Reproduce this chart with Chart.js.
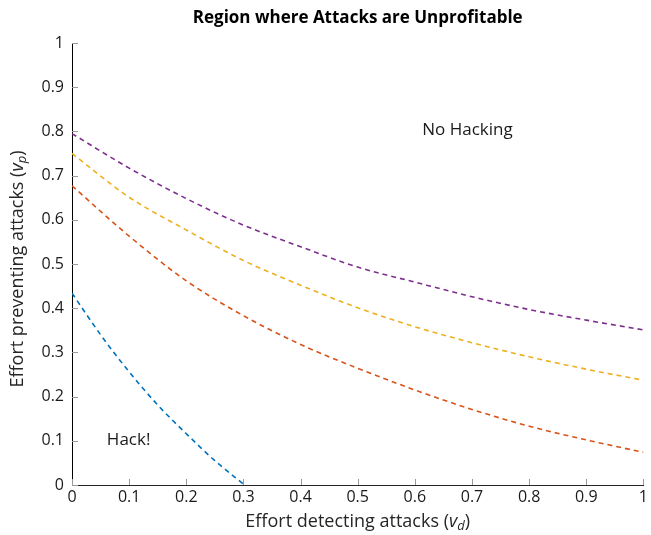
<!DOCTYPE html>
<html>
<head>
<meta charset="utf-8">
<script src="https://cdn.jsdelivr.net/npm/chart.js@4"></script>
<style>
  html, body { margin: 0; padding: 0; background: #fff; }
  #wrap { width: 651px; height: 535px; }
</style>
</head>
<body>
<div id="wrap"><canvas id="regionChart"></canvas></div>
<script>
// effort detecting attacks (x) and the boundary curves
const xVals = [0, 0.1, 0.2, 0.3, 0.4, 0.5, 0.6, 0.7, 0.8, 0.9, 1];
const blueX = [0, 0.05, 0.1, 0.15, 0.2, 0.25, 0.302];
const blueY = [0.434, 0.34, 0.256, 0.181, 0.116, 0.055, 0];
const redY = [0.677, 0.563, 0.462, 0.383, 0.318, 0.264, 0.215, 0.171, 0.133, 0.102, 0.074];
const yellowY = [0.75, 0.651, 0.577, 0.508, 0.452, 0.401, 0.358, 0.322, 0.29, 0.262, 0.237];
const purpleY = [0.795, 0.717, 0.648, 0.588, 0.539, 0.493, 0.459, 0.426, 0.397, 0.373, 0.351];
const tickVals = [0, 0.1, 0.2, 0.3, 0.4, 0.5, 0.6, 0.7, 0.8, 0.9, 1];

const FONT = "'Open Sans', sans-serif";

function pts(xs, ys) {
  return xs.map((x, i) => ({ x: x, y: ys[i] }));
}

function curve(data, color) {
  return {
    data: data,
    borderColor: color,
    borderWidth: 1.6,
    borderDash: [5, 4],
    pointRadius: 0,
    fill: false,
    cubicInterpolationMode: "monotone"
  };
}

// label text with an italic v and a subscript
function richText(ctx, parts, x, y) {
  let total = 0;
  parts.forEach(p => {
    ctx.font = p.font;
    p.w = ctx.measureText(p.t).width;
    total += p.w;
  });
  let cx = x - total / 2;
  parts.forEach(p => {
    ctx.font = p.font;
    ctx.fillText(p.t, cx, y + (p.dy || 0));
    cx += p.w;
  });
}

function axisLabel(text, sub) {
  return [
    { t: text + " (", font: "18px " + FONT },
    { t: "v", font: "italic 18px " + FONT },
    { t: sub, font: "italic 13px " + FONT, dy: 4 },
    { t: ")", font: "18px " + FONT }
  ];
}

// title, inward tick marks, axis titles and region labels
const extras = {
  id: "extras",
  afterDatasetsDraw(chart) {
    const ctx = chart.ctx;
    const xs = chart.scales.x, ys = chart.scales.y;
    const area = chart.chartArea;
    const midX = (area.left + area.right) / 2;
    ctx.save();
    ctx.strokeStyle = "#9a9a9a";
    ctx.lineWidth = 1;
    tickVals.forEach(v => {
      const px = Math.round(xs.getPixelForValue(v)) + 0.5;
      ctx.beginPath();
      ctx.moveTo(px, area.bottom);
      ctx.lineTo(px, area.bottom - 6);
      ctx.stroke();
      const py = Math.round(ys.getPixelForValue(v)) + 0.5;
      ctx.beginPath();
      ctx.moveTo(area.left, py);
      ctx.lineTo(area.left + 6, py);
      ctx.stroke();
    });
    ctx.textBaseline = "middle";

    ctx.fillStyle = "#000";
    ctx.textAlign = "center";
    ctx.font = "bold 17px " + FONT;
    ctx.fillText("Region where Attacks are Unprofitable", midX, 18);

    ctx.fillStyle = "#1a1a1a";
    ctx.font = "17px " + FONT;
    ctx.textAlign = "left";
    ctx.fillText("Hack!", xs.getPixelForValue(0.061), ys.getPixelForValue(0.102));
    ctx.fillText("No Hacking", xs.getPixelForValue(0.613), ys.getPixelForValue(0.803));

    ctx.fillStyle = "#262626";
    richText(ctx, axisLabel("Effort detecting attacks", "d"), midX, 522);
    ctx.translate(18, (area.top + area.bottom) / 2 + 5);
    ctx.rotate(-Math.PI / 2);
    richText(ctx, axisLabel("Effort preventing attacks", "p"), 0, 0);
    ctx.restore();
  }
};

new Chart(document.getElementById("regionChart"), {
  type: "line",
  data: {
    datasets: [
      curve(pts(blueX, blueY), "#0072BD"),
      curve(pts(xVals, redY), "#D95319"),
      curve(pts(xVals, yellowY), "#EDB120"),
      curve(pts(xVals, purpleY), "#7E2F8E")
    ]
  },
  options: {
    responsive: true,
    maintainAspectRatio: false,
    animation: false,
    layout: { padding: { left: 0, right: 6, top: 43, bottom: 0 } },
    plugins: {
      legend: { display: false },
      tooltip: { enabled: false },
      title: { display: false }
    },
    scales: {
      x: {
        type: "linear",
        min: 0, max: 1,
        afterFit(scale) { scale.height = 50; },
        afterBuildTicks(scale) { scale.ticks = tickVals.map(v => ({ value: v })); },
        grid: { display: true, drawOnChartArea: false, drawTicks: false },
        border: { display: true, color: "#262626", width: 1 },
        ticks: {
          color: "#1a1a1a",
          padding: 3,
          maxRotation: 0,
          font: { family: FONT, size: 16 },
          callback: v => String(parseFloat(v.toFixed(2)))
        }
      },
      y: {
        type: "linear",
        min: 0, max: 1,
        afterFit(scale) { scale.width = 72; },
        afterBuildTicks(scale) { scale.ticks = tickVals.map(v => ({ value: v })); },
        grid: { display: true, drawOnChartArea: false, drawTicks: false },
        border: { display: true, color: "#000", width: 1 },
        ticks: {
          color: "#1a1a1a",
          padding: 8,
          font: { family: FONT, size: 16 },
          callback: v => String(parseFloat(v.toFixed(2)))
        }
      }
    }
  },
  plugins: [extras]
});
</script>
</body>
</html>
